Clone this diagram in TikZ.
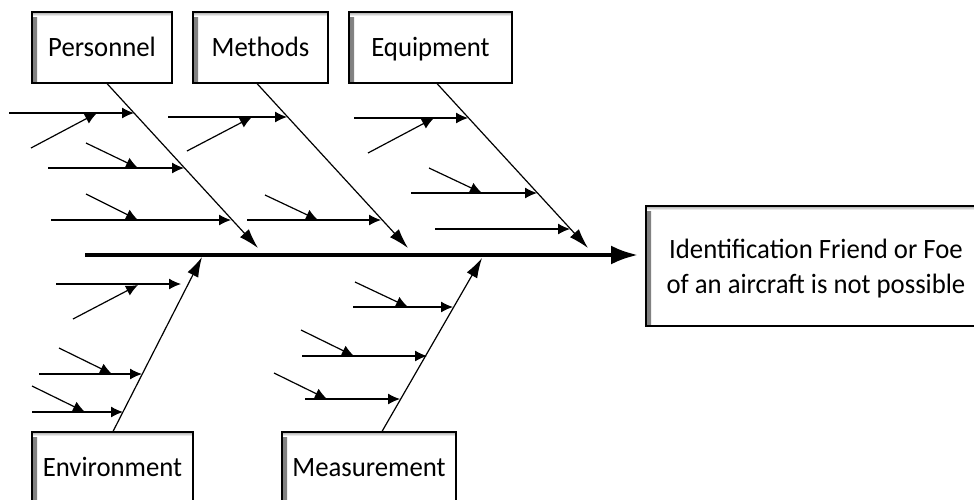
\documentclass[tikz,border=0pt]{standalone}
\usepackage{fontspec}
\setmainfont{Carlito}
\newfontfamily\boxfont[FakeStretch=0.955]{Carlito}
\usetikzlibrary{arrows.meta}
\begin{document}
\begin{tikzpicture}[x=1pt,y=-1pt,
  boxtext/.style={font=\boxfont\fontsize{28}{35}\selectfont},
  shadowbox/.style={draw=black,line width=1.1pt,fill=white,inner sep=0pt,boxtext,
    path picture={
      \shade[left color=black!50,right color=white] (path picture bounding box.south west) rectangle ([xshift=5pt]path picture bounding box.north west);
      \shade[top color=black!35,bottom color=white] (path picture bounding box.north west) rectangle ([yshift=-4pt]path picture bounding box.north east);
    }},
  catbox/.style={shadowbox,minimum height=71pt,text height=18pt,text depth=0pt},
  bone/.style={line width=1.2pt,-{Latex[length=20pt,width=12pt]}},
  sub/.style={line width=1.2pt,-{Latex[length=12pt,width=11pt]}},
  spine/.style={line width=4pt,-{Latex[length=27pt,width=19pt]}}]
\useasboundingbox (0,0) rectangle (974,499);
% category boxes
\node[catbox,minimum width=140pt] (P) at (102,47.5) {Personnel};
\node[catbox,minimum width=135pt] (M) at (260.5,47.5) {Methods};
\node[catbox,minimum width=163pt] (Q) at (430.5,47.5) {Equipment};
\node[catbox,minimum width=161pt] (N) at (112.5,467.5) {Environment};
\node[catbox,minimum width=174pt] (S) at (369,467.5) {Measurement};
% effect box
\node[shadowbox,minimum width=337pt,minimum height=120pt] (E) at (814.5,266) {};
\node[boxtext,align=center,inner sep=0pt] (Et) at ([xshift=1.5pt,yshift=-3pt]E.center)
  {Identification Friend or Foe\\of an aircraft is not possible};
% spine
\coordinate (sp0) at (85,255);
\coordinate (sp1) at (638,255);
\draw[spine] (sp0) -- (sp1);
% main bones
\coordinate (pB) at (258,248);
\coordinate (mB) at (408,248);
\coordinate (qB) at (588,248);
\coordinate (nB) at (202,257);
\coordinate (sB) at (482,258);
\draw[bone] ([xshift=5pt]P.south) -- (pB);
\draw[bone] ([xshift=-3.5pt]M.south) -- (mB);
\draw[bone] ([xshift=6.5pt]Q.south) -- (qB);
\draw[bone] ([xshift=0.5pt]N.north) -- (nB);
\draw[bone] ([xshift=13pt]S.north) -- (sB);
% horizontal sub-bones
\foreach \i/\ax/\bx/\yy in {1/9/134/113, 2/48/184/168, 3/51/231/220,
    4/168/287/117, 5/247/381/220,
    6/354/468/118, 7/411/537/193, 8/435/570/229,
    9/56/181/284, 10/39/142/374, 11/32/123/412,
    12/353/453/307, 13/302/427/356, 14/305/400/399}{
  \coordinate (hs\i) at (\ax,\yy);
  \coordinate (he\i) at (\bx,\yy);
  \draw[sub] (hs\i) -- (he\i);
}
% oblique sub-sub-bones
\foreach \i/\ax/\ay/\bx/\by in {1/31/148/97/113, 2/86/143/138/168, 3/86/194/138/220,
    4/187/151/252/117, 5/265/195/318/220,
    6/368/153/434/118, 7/429/168/482/193,
    9/73/319/138/285, 10/59/348/112/374, 11/32/386/85/412,
    12/355/282/408/307, 13/301/330/354/356, 14/274/373/327/399}{
  \coordinate (ds\i) at (\ax,\ay);
  \coordinate (de\i) at (\bx,\by);
  \draw[sub] (ds\i) -- (de\i);
}
\end{tikzpicture}
\end{document}
